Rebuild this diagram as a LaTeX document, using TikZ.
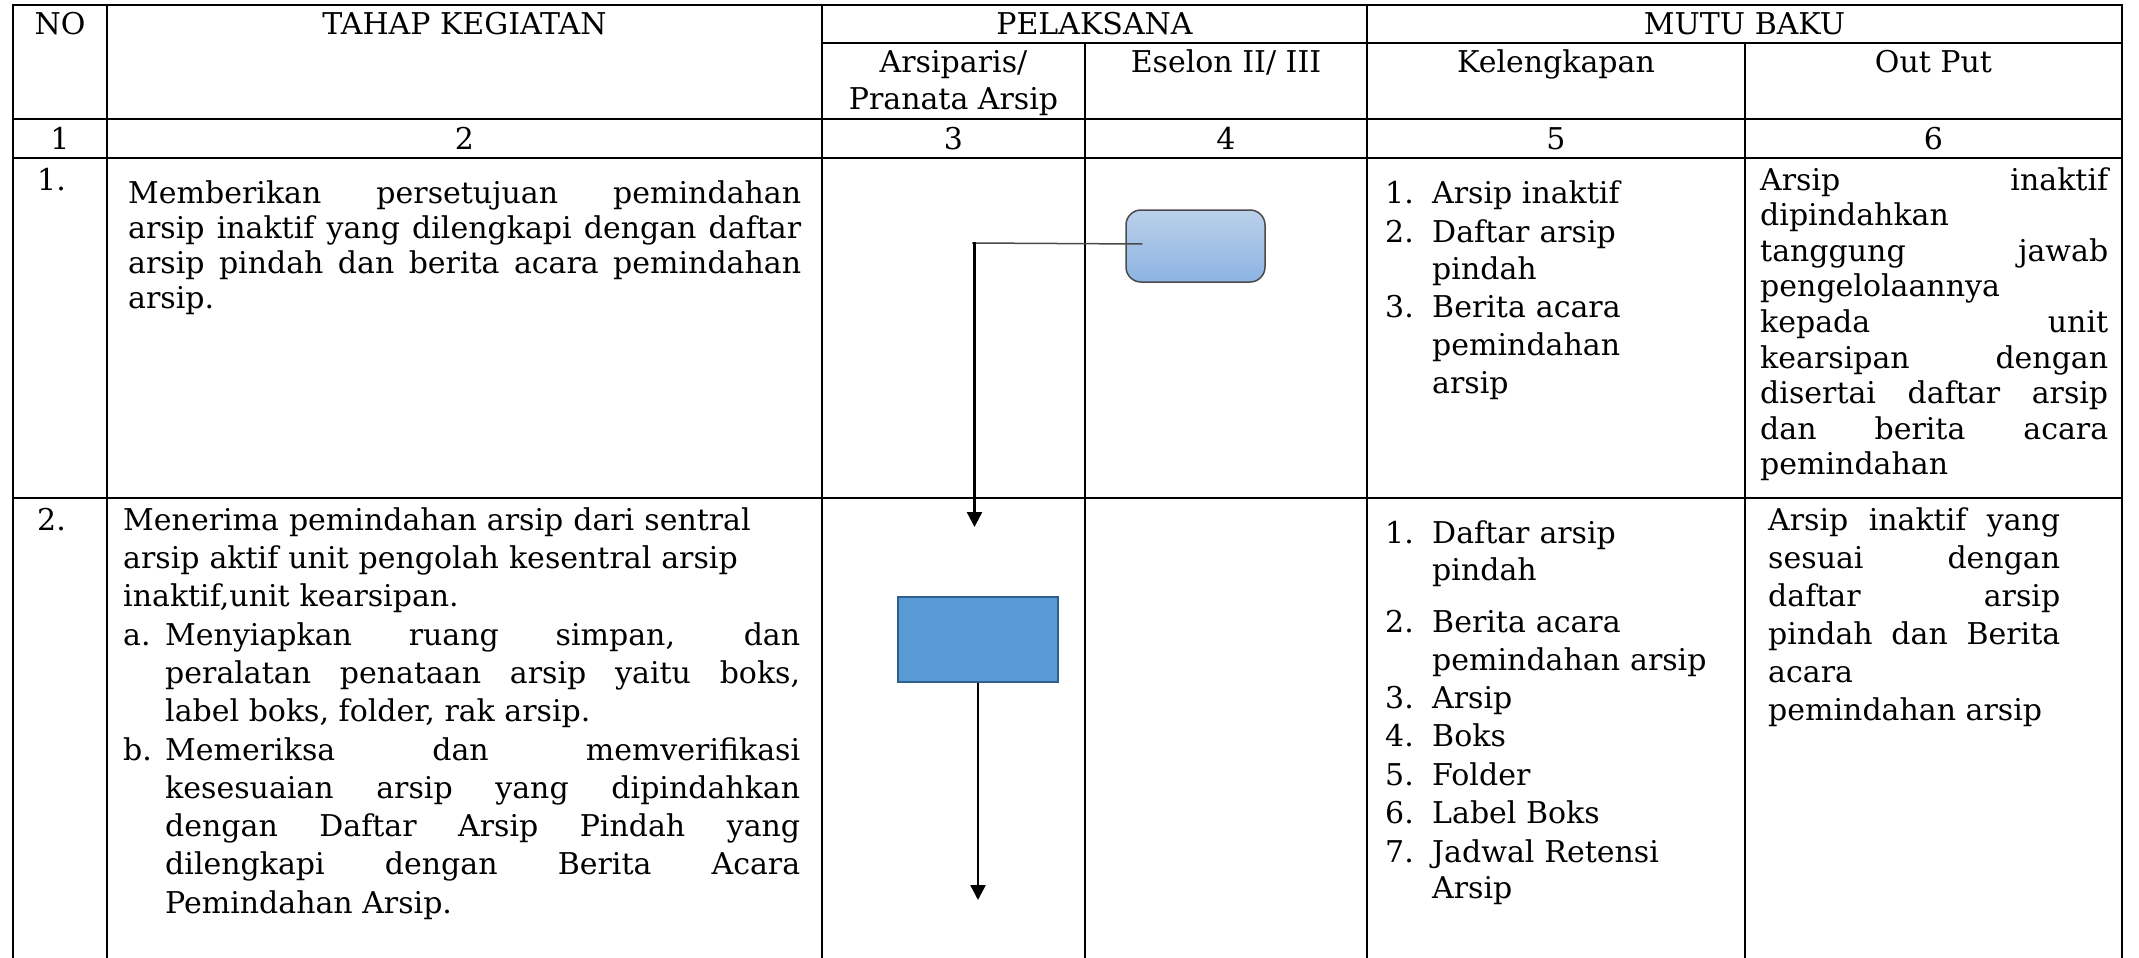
\documentclass[tikz,border=0pt]{standalone}
\usepackage{fontspec}
\setmainfont{DejaVu Serif}
\usetikzlibrary{arrows.meta,calc}
\definecolor{gtop}{HTML}{BAD0EA}
\definecolor{gbot}{HTML}{8DB3E2}
\definecolor{sqfill}{HTML}{5B9BD5}
\definecolor{sqdraw}{HTML}{2F5F8F}
\definecolor{linkgray}{HTML}{4A4A4A}
\tolerance=10000
\hyphenpenalty=10000
\exhyphenpenalty=10000
\newcommand{\jst}{\leftskip=0pt\rightskip=0pt\parfillskip=0pt plus 1fil\relax}
\begin{document}
\begin{tikzpicture}[x=1pt,y=-1pt,
  grid/.style={line width=2pt,black,line cap=rect},
  hd/.style={anchor=base,inner sep=0pt,font=\fontsize{30}{36}\selectfont},
  lbl/.style={anchor=base west,inner sep=0pt,font=\fontsize{30}{36}\selectfont},
  jtxt/.style={anchor=base west,inner sep=0pt,text width=#1,align=justify},
  ltxt/.style={anchor=base west,inner sep=0pt,text width=#1,align=left},
  rbox/.style={draw=linkgray,line width=1.5pt,rounded corners=15pt,top color=gtop,bottom color=gbot,minimum width=139pt,minimum height=72pt,inner sep=0pt},
  sqbox/.style={draw=sqdraw,line width=2pt,fill=sqfill,minimum width=160pt,minimum height=85pt,inner sep=0pt},
  link/.style={draw=linkgray,line width=1.5pt},
  flow/.style={draw=black,line width=2.5pt,-{Triangle[length=15pt,width=15pt]}}
]
\useasboundingbox (0,0) rectangle (2139,958);

% ---------- table grid ----------
\draw[grid] (13,5) -- (2122,5);
\draw[grid] (822,43) -- (2122,43);
\draw[grid] (13,119) -- (2122,119);
\draw[grid] (13,158) -- (2122,158);
\draw[grid] (13,498) -- (2122,498);
\draw[grid] (13,5) -- (13,958);
\draw[grid] (107,5) -- (107,958);
\draw[grid] (822,5) -- (822,958);
\draw[grid] (1085,43) -- (1085,958);
\draw[grid] (1367,5) -- (1367,958);
\draw[grid] (1745,43) -- (1745,958);
\draw[grid] (2122,5) -- (2122,958);

% ---------- headers ----------
\node[hd] (hNO) at (60,35) {NO};
\node[hd] (hTK) at (464.5,35) {TAHAP KEGIATAN};
\node[hd] (hPL) at (1094.5,35) {PELAKSANA};
\node[hd] (hMB) at (1744.5,35) {MUTU BAKU};
\node[hd] (hAR1) at (953.5,73) {Arsiparis/};
\node[hd] (hAR2) at (953.5,109) {Pranata Arsip};
\node[hd] (hES) at (1226,73) {Eselon II/ III};
\node[hd] (hKL) at (1556,73) {Kelengkapan};
\node[hd] (hOP) at (1933.5,73) {Out Put};

\node[hd] (c1) at (60,149) {1};
\node[hd] (c2) at (464.5,149) {2};
\node[hd] (c3) at (953.5,149) {3};
\node[hd] (c4) at (1226,149) {4};
\node[hd] (c5) at (1556,149) {5};
\node[hd] (c6) at (1933.5,149) {6};

% ---------- row 1 ----------
\node[lbl] (n1) at (37,190) {1.};
\node[jtxt=673pt,font=\fontsize{30}{35}\selectfont] (t1) at (128,203)
  {\jst Memberikan persetujuan pemindahan\linebreak
   arsip inaktif yang dilengkapi dengan daftar\linebreak
   arsip pindah dan berita acara pemindahan\linebreak
   arsip.};

\node[lbl] (k1n1) at (1385,203) {1.};
\node[lbl] (k1t1) at (1432,203) {Arsip inaktif};
\node[lbl] (k1n2) at (1385,242) {2.};
\node[ltxt=305pt,font=\fontsize{30}{37}\selectfont] (k1t2) at (1432,242) {Daftar arsip\\pindah};
\node[lbl] (k1n3) at (1385,317) {3.};
\node[ltxt=305pt,font=\fontsize{30}{38}\selectfont] (k1t3) at (1432,317) {Berita acara\\pemindahan\\arsip};

\node[jtxt=348pt,font=\fontsize{30}{35.6}\selectfont] (o1) at (1760,190)
  {\jst Arsip inaktif\linebreak
   dipindahkan\newline
   tanggung jawab\linebreak
   pengelolaannya\newline
   kepada unit\linebreak
   kearsipan dengan\linebreak
   disertai daftar arsip\linebreak
   dan berita acara\linebreak
   pemindahan};

\node[rbox] (eb) at (1195.5,246) {};

% ---------- row 2 ----------
\node[lbl] (n2) at (37,530) {2.};
\node[ltxt=677pt,font=\fontsize{30}{38.33}\selectfont] (t2) at (123,530)
  {Menerima pemindahan arsip dari sentral\\
   arsip aktif unit pengolah kesentral arsip\\
   inaktif,unit kearsipan.};
\node[lbl] (t2an) at (123,645) {a.};
\node[jtxt=635pt,font=\fontsize{30}{38.33}\selectfont] (t2at) at (165,645)
  {\jst Menyiapkan ruang simpan, dan\linebreak
   peralatan penataan arsip yaitu boks,\linebreak
   label boks, folder, rak arsip.};
\node[lbl] (t2bn) at (123,760) {b.};
\node[jtxt=635pt,font=\fontsize{30}{38.33}\selectfont] (t2bt) at (165,760)
  {\jst Memeriksa dan memverifikasi\linebreak
   kesesuaian arsip yang dipindahkan\linebreak
   dengan Daftar Arsip Pindah yang\linebreak
   dilengkapi dengan Berita Acara\linebreak
   Pemindahan Arsip.};

\node[lbl] (k2n1) at (1385,543) {1.};
\node[ltxt=305pt,font=\fontsize{30}{37}\selectfont] (k2t1) at (1432,543) {Daftar arsip\\pindah};
\node[lbl] (k2n2) at (1385,632) {2.};
\node[ltxt=305pt,font=\fontsize{30}{38}\selectfont] (k2t2) at (1432,632) {Berita acara\\pemindahan arsip};
\node[lbl] (k2n3) at (1385,708) {3.};
\node[lbl] (k2t3) at (1432,708) {Arsip};
\node[lbl] (k2n4) at (1385,746) {4.};
\node[lbl] (k2t4) at (1432,746) {Boks};
\node[lbl] (k2n5) at (1385,785) {5.};
\node[lbl] (k2t5) at (1432,785) {Folder};
\node[lbl] (k2n6) at (1385,823) {6.};
\node[lbl] (k2t6) at (1432,823) {Label Boks};
\node[lbl] (k2n7) at (1385,862) {7.};
\node[ltxt=305pt,font=\fontsize{30}{36.5}\selectfont] (k2t7) at (1432,862) {Jadwal Retensi\\Arsip};

\node[jtxt=292pt,font=\fontsize{30}{38}\selectfont] (o2) at (1768,530)
  {\jst Arsip inaktif yang\linebreak
   sesuai dengan\linebreak
   daftar arsip\linebreak
   pindah dan Berita\linebreak
   acara\newline
   pemindahan arsip};

\node[sqbox] (sq) at (978,639.5) {};

% ---------- connectors ----------
\coordinate (hend) at (972,243);
\coordinate (bend) at (974.5,242);
\coordinate (tip1) at (974.5,527);
\coordinate (tip2) at (978,900);
\draw[link] ($(eb.west)+(17,-2)$) -- (hend);
\draw[flow] (bend) -- (tip1);
\draw[flow] (sq.south) -- (tip2);
\end{tikzpicture}
\end{document}
